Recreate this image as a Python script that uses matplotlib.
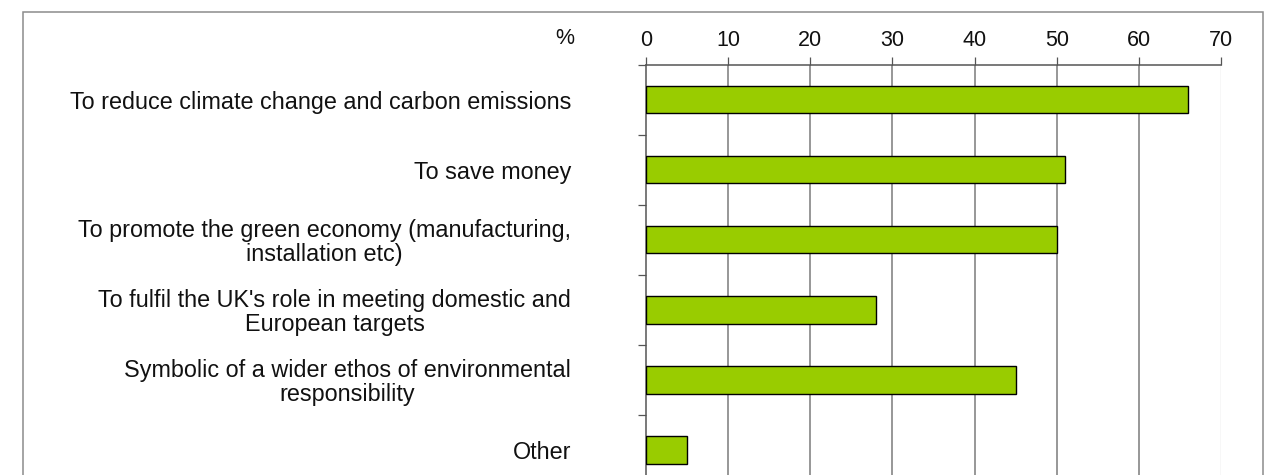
import matplotlib
matplotlib.use("Agg")
import matplotlib.pyplot as plt
from matplotlib.patches import Rectangle

plt.rcParams['font.family'] = ['Liberation Sans', 'DejaVu Sans']

# reasons given (% of respondents)
reasons = [
    "To reduce climate change and carbon emissions",
    "To save money",
    "To promote the green economy (manufacturing,\ninstallation etc)",
    "To fulfil the UK's role in meeting domestic and\nEuropean targets",
    "Symbolic of a wider ethos of environmental\nresponsibility",
    "Other",
]
percent = [66, 51, 50, 28, 45, 5]
xticks = [0, 10, 20, 30, 40, 50, 60, 70]

fig = plt.figure(figsize=(12.78, 4.75), dpi=100)

# grey frame round the chart area
fig.patches.append(Rectangle((23 / 1278, -0.1), 1240 / 1278, 1.1 - 12 / 475,
                             transform=fig.transFigure, fill=False,
                             edgecolor='#8c8c8c', linewidth=1.1))

ax = fig.add_axes([646 / 1278, -0.0213, 575 / 1278, 0.8855])

pos = list(range(len(reasons)))
ax.barh(pos, percent, height=0.39, color='#99cc00', edgecolor='black',
        linewidth=1.0, zorder=3)

ax.set_xlim(0, 70)
ax.set_ylim(len(reasons) - 0.5, -0.5)

# x axis along the top
ax.xaxis.tick_top()
ax.set_xticks(xticks)
ax.set_xticklabels([str(t) for t in xticks])
ax.tick_params(axis='x', length=5.5, width=0.9, color='#555555', pad=4.5,
               labelsize=15.5, labelcolor='#111111')

# category boundaries get the tick marks, the names sit between them
ax.set_yticks([p - 0.5 for p in pos] + [len(reasons) - 0.5])
ax.set_yticklabels([])
ax.tick_params(axis='y', which='major', length=6, width=0.9, color='#555555')
ax.set_yticks(pos, minor=True)
ax.set_yticklabels(reasons, minor=True)
ax.tick_params(axis='y', which='minor', length=0, pad=54,
               labelsize=16.8, labelcolor='#111111')
for lab in ax.get_yticklabels(minor=True):
    lab.set_multialignment('center')
    lab.set_linespacing(1.02)

# vertical grid
for t in xticks[1:-1]:
    ax.axvline(t, color='#7a7a7a', linewidth=1.1, zorder=1)
ax.axvline(70, color='#d9d9d9', linewidth=1.0, zorder=1)

for side in ['right', 'bottom']:
    ax.spines[side].set_visible(False)
ax.spines['top'].set_color('#555555')
ax.spines['top'].set_linewidth(1.1)
ax.spines['left'].set_color('#555555')
ax.spines['left'].set_linewidth(1.1)

fig.text(565 / 1278, 1 - 38 / 475, '%', ha='center', va='center',
         fontsize=15.5, color='#111111')

fig.savefig('out.png', dpi=100)
